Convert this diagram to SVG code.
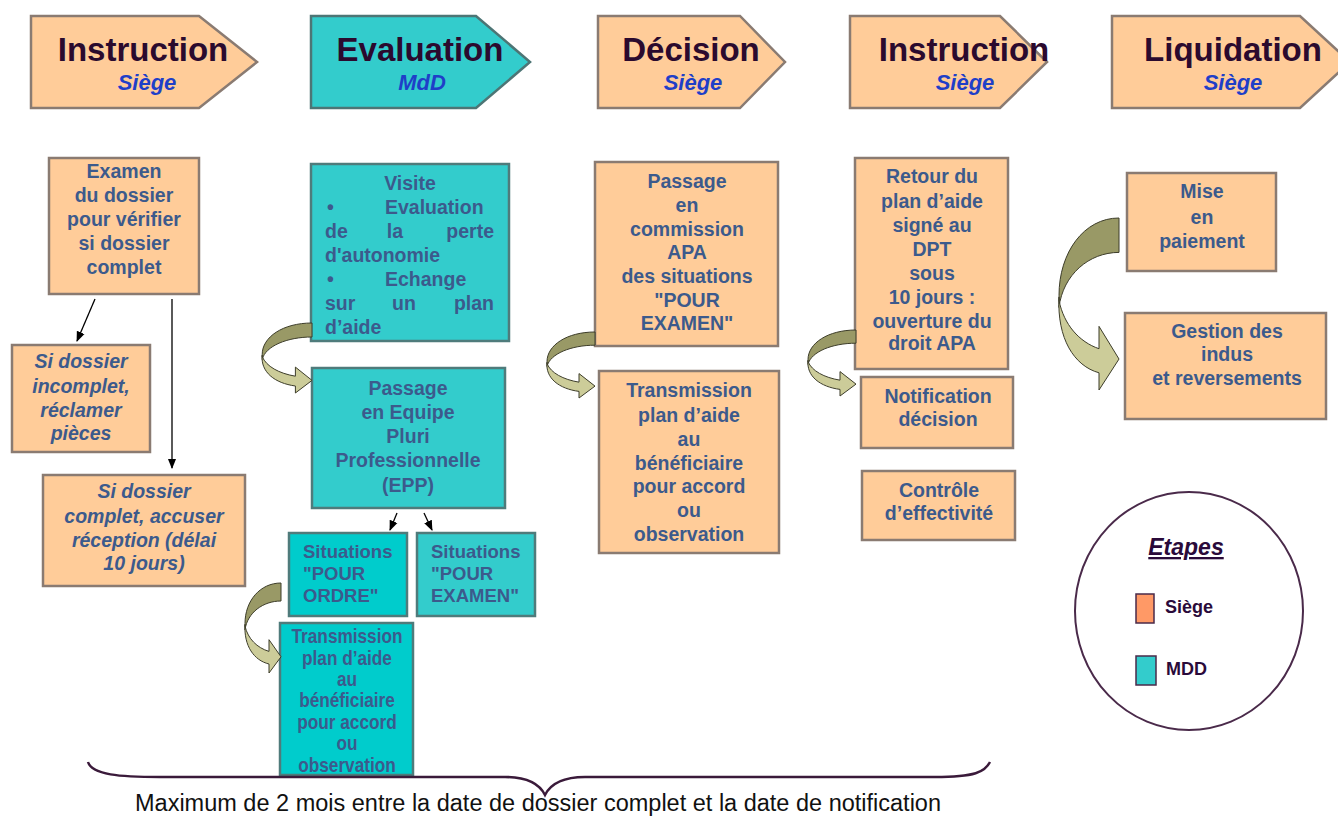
<svg xmlns="http://www.w3.org/2000/svg" xmlns:xlink="http://www.w3.org/1999/xlink" width="1338" height="816" viewBox="0 0 1338 816">
<style>
.hp{fill:#FFCC99;stroke:#8a7b72;stroke-width:2.5}
.ht{fill:#33CCCC;stroke:#4d7575;stroke-width:2.5}
.peach{fill:#FFCC99;stroke:#8a7b72;stroke-width:2.5}
.teal{fill:#33CCCC;stroke:#4f7b7b;stroke-width:2.5}
.teal2{fill:#00CCCC;stroke:#4f7b7b;stroke-width:2.5}
.h1{font-family:"Liberation Sans",Arial,sans-serif;font-weight:bold;font-size:33px;fill:#2b0a2e;text-anchor:middle}
.h2{font-family:"Liberation Sans",Arial,sans-serif;font-weight:bold;font-style:italic;font-size:22px;fill:#1f3fc8;text-anchor:middle}
.t{font-family:"Liberation Sans",Arial,sans-serif;font-weight:bold;font-size:19.5px;fill:#3c5a8c;text-anchor:middle}
.ti{font-family:"Liberation Sans",Arial,sans-serif;font-weight:bold;font-style:italic;font-size:19.5px;fill:#3c5a8c;text-anchor:middle}
.ts{font-family:"Liberation Sans",Arial,sans-serif;font-weight:bold;font-size:18.5px;fill:#3c5a8c}
.tn{font-family:"Liberation Sans",Arial,sans-serif;font-weight:bold;font-size:21px;fill:#3c5a8c;text-anchor:middle}
.tv{font-family:"Liberation Sans",Arial,sans-serif;font-weight:bold;font-size:19.5px;fill:#3c5a8c}
.lg{font-family:"Liberation Sans",Arial,sans-serif;font-weight:bold;font-size:18px;fill:#2a0a3a}
.lgt{font-family:"Liberation Sans",Arial,sans-serif;font-weight:bold;font-style:italic;font-size:23px;fill:#2a0a3a;text-anchor:middle;text-decoration:underline}
.cap{font-family:"Liberation Sans",Arial,sans-serif;font-size:23px;fill:#111;text-anchor:middle}
.ln{stroke:#000;stroke-width:1.3;fill:none}
.cdark{fill:#999966;stroke:#3d3d2a;stroke-width:1;vector-effect:non-scaling-stroke}
.clight{fill:#CCCC99;stroke:#3d3d2a;stroke-width:1;vector-effect:non-scaling-stroke}
</style>
<defs>
<marker id="ah" viewBox="0 0 10 10" refX="9" refY="5" markerWidth="8" markerHeight="8" orient="auto">
<path d="M0,1 L10,5 L0,9 Z" fill="#000"/>
</marker>
<clipPath id="clipVisite"><rect x="312" y="165" width="197" height="175"/></clipPath>
<clipPath id="clipTr"><rect x="281" y="624" width="131" height="150"/></clipPath>
<g id="carrow">
<path class="cdark" d="M0,0 C-35,0 -60,20 -60,45 L-60,52 C-56,33 -30,20 0,20 Z"/>
<path class="clight" d="M-60,46 C-62,70 -45,86 -20,90 L-20,100 L0,82 L-20,63 L-20,76 C-40,72 -55,62 -60,48 Z"/>
</g>
</defs>
<rect width="1338" height="816" fill="#fff"/>

<!-- headers -->
<g id="h-instruction1">
<path class="hp" d="M31,16 L199,16 L257,62 L199,108 L31,108 Z"/>
<text class="h1" x="143" y="61">Instruction</text>
<text class="h2" x="147" y="90">Siège</text>
</g>
<g id="h-evaluation">
<path class="ht" d="M311,16 L476,16 L530,62 L476,108 L311,108 Z"/>
<text class="h1" x="420" y="61">Evaluation</text>
<text class="h2" x="422" y="90">MdD</text>
</g>
<g id="h-decision">
<path class="hp" d="M598,16 L740,16 L785,62 L740,108 L598,108 Z"/>
<text class="h1" x="691" y="61">Décision</text>
<text class="h2" x="693" y="90">Siège</text>
</g>
<g id="h-instruction2">
<path class="hp" d="M850,16 L1000,16 L1047,62 L1000,108 L850,108 Z"/>
<text class="h1" x="964" y="61">Instruction</text>
<text class="h2" x="965" y="90">Siège</text>
</g>
<g id="h-liquidation">
<path class="hp" d="M1112,16 L1300,16 L1350,62 L1300,108 L1112,108 Z"/>
<text class="h1" x="1233" y="61">Liquidation</text>
<text class="h2" x="1233" y="90">Siège</text>
</g>

<!-- column 1 -->
<g id="n-examen">
<rect class="peach" x="49" y="158" width="150" height="136"/>
<text class="t" x="124" y="178">Examen</text>
<text class="t" x="124" y="202">du dossier</text>
<text class="t" x="124" y="226">pour vérifier</text>
<text class="t" x="124" y="250">si dossier</text>
<text class="t" x="124" y="274">complet</text>
</g>
<g id="n-incomplet">
<rect class="peach" x="12" y="345" width="138" height="107"/>
<text class="ti" x="81" y="368">Si dossier</text>
<text class="ti" x="81" y="393">incomplet,</text>
<text class="ti" x="81" y="417">réclamer</text>
<text class="ti" x="81" y="440">pièces</text>
</g>
<g id="n-complet">
<rect class="peach" x="43" y="475" width="202" height="111"/>
<text class="ti" x="144" y="498">Si dossier</text>
<text class="ti" x="144" y="523">complet, accuser</text>
<text class="ti" x="144" y="547">réception (délai</text>
<text class="ti" x="144" y="570">10 jours)</text>
</g>

<!-- column 2 -->
<g id="n-visite">
<rect class="teal" x="311" y="164" width="198" height="177"/>
<g clip-path="url(#clipVisite)">
<text class="tv" x="410" y="190" text-anchor="middle">Visite</text>
<text class="tv" x="327" y="214">•</text>
<text class="tv" x="385" y="214">Evaluation</text>
<text class="tv" x="325" y="238">de</text>
<text class="tv" x="395" y="238" text-anchor="middle">la</text>
<text class="tv" x="494" y="238" text-anchor="end">perte</text>
<text class="tv" x="325" y="262">d'autonomie</text>
<text class="tv" x="327" y="286">•</text>
<text class="tv" x="385" y="286">Echange</text>
<text class="tv" x="325" y="310">sur</text>
<text class="tv" x="404" y="310" text-anchor="middle">un</text>
<text class="tv" x="494" y="310" text-anchor="end">plan</text>
<text class="tv" x="325" y="334">d’aide</text>
</g>
</g>
<g id="n-epp">
<rect class="teal" x="312" y="368" width="193" height="140"/>
<text class="t" x="408" y="395">Passage</text>
<text class="t" x="408" y="419">en Equipe</text>
<text class="t" x="408" y="443">Pluri</text>
<text class="t" x="408" y="467">Professionnelle</text>
<text class="t" x="408" y="492">(EPP)</text>
</g>
<g id="n-pour-ordre">
<rect class="teal2" x="289" y="533" width="118" height="83"/>
<text class="ts" x="303" y="558">Situations</text>
<text class="ts" x="303" y="580">"POUR</text>
<text class="ts" x="303" y="602">ORDRE"</text>
</g>
<g id="n-pour-examen">
<rect class="teal" x="417" y="533" width="118" height="83"/>
<text class="ts" x="431" y="558">Situations</text>
<text class="ts" x="431" y="580">"POUR</text>
<text class="ts" x="431" y="602">EXAMEN"</text>
</g>
<g id="n-transmission1">
<rect class="teal2" x="280" y="623" width="133" height="152"/>
<g clip-path="url(#clipTr)">
<g transform="translate(347,0) scale(0.82,1)">
<text class="tn" x="0" y="643">Transmission</text>
<text class="tn" x="0" y="665">plan d’aide</text>
<text class="tn" x="0" y="686">au</text>
<text class="tn" x="0" y="707">bénéficiaire</text>
<text class="tn" x="0" y="729">pour accord</text>
<text class="tn" x="0" y="750">ou</text>
<text class="tn" x="0" y="772">observation</text>
</g>
</g>
</g>

<!-- column 3 -->
<g id="n-commission">
<rect class="peach" x="595" y="162" width="183" height="184"/>
<text class="t" x="687" y="188">Passage</text>
<text class="t" x="687" y="212">en</text>
<text class="t" x="687" y="236">commission</text>
<text class="t" x="687" y="259">APA</text>
<text class="t" x="687" y="283">des situations</text>
<text class="t" x="687" y="307">"POUR</text>
<text class="t" x="687" y="330">EXAMEN"</text>
</g>
<g id="n-transmission2">
<rect class="peach" x="599" y="371" width="180" height="182"/>
<text class="t" x="689" y="397">Transmission</text>
<text class="t" x="689" y="422">plan d’aide</text>
<text class="t" x="689" y="446">au</text>
<text class="t" x="689" y="470">bénéficiaire</text>
<text class="t" x="689" y="493">pour accord</text>
<text class="t" x="689" y="517">ou</text>
<text class="t" x="689" y="541">observation</text>
</g>

<!-- column 4 -->
<g id="n-retour">
<rect class="peach" x="855" y="158" width="153" height="211"/>
<text class="t" x="932" y="183">Retour du</text>
<text class="t" x="932" y="208">plan d’aide</text>
<text class="t" x="932" y="232">signé au</text>
<text class="t" x="932" y="256">DPT</text>
<text class="t" x="932" y="280">sous</text>
<text class="t" x="932" y="304">10 jours :</text>
<text class="t" x="932" y="328">ouverture du</text>
<text class="t" x="932" y="350">droit APA</text>
</g>
<g id="n-notification">
<rect class="peach" x="861" y="377" width="152" height="71"/>
<text class="t" x="938" y="403">Notification</text>
<text class="t" x="938" y="426">décision</text>
</g>
<g id="n-controle">
<rect class="peach" x="862" y="471" width="153" height="69"/>
<text class="t" x="939" y="497">Contrôle</text>
<text class="t" x="939" y="520">d’effectivité</text>
</g>

<!-- column 5 -->
<g id="n-paiement">
<rect class="peach" x="1127" y="173" width="149" height="98"/>
<text class="t" x="1202" y="198">Mise</text>
<text class="t" x="1202" y="224">en</text>
<text class="t" x="1202" y="248">paiement</text>
</g>
<g id="n-gestion">
<rect class="peach" x="1125" y="313" width="201" height="106"/>
<text class="t" x="1227" y="338">Gestion des</text>
<text class="t" x="1227" y="361">indus</text>
<text class="t" x="1227" y="385">et reversements</text>
</g>

<!-- legend -->
<g id="legend">
<ellipse cx="1189" cy="611" rx="114" ry="119" fill="#fff" stroke="#4a2a4a" stroke-width="2"/>
<text class="lgt" x="1186" y="555">Etapes</text>
<rect x="1136" y="594" width="18" height="29" fill="#FF9966" stroke="#4a2a4a" stroke-width="1.5"/>
<text class="lg" x="1165" y="613">Siège</text>
<rect x="1136" y="656" width="20" height="29" fill="#33CCCC" stroke="#4a2a4a" stroke-width="1.5"/>
<text class="lg" x="1166" y="675">MDD</text>
</g>

<!-- connectors -->
<g id="connectors">
<line class="ln" x1="95" y1="299" x2="77" y2="341" marker-end="url(#ah)"/>
<line class="ln" x1="172" y1="299" x2="172" y2="468" marker-end="url(#ah)"/>
<line class="ln" x1="397" y1="513" x2="390" y2="530" stroke-width="2" marker-end="url(#ah)"/>
<line class="ln" x1="424" y1="513" x2="432" y2="530" stroke-width="2" marker-end="url(#ah)"/>
<use href="#carrow" xlink:href="#carrow" transform="translate(312,323) scale(0.83,0.7)"/>
<use href="#carrow" xlink:href="#carrow" transform="translate(281,583) scale(0.6,0.9)"/>
<use href="#carrow" xlink:href="#carrow" transform="translate(595,332) scale(0.8,0.66)"/>
<use href="#carrow" xlink:href="#carrow" transform="translate(856,330) scale(0.8,0.66)"/>
<use href="#carrow" xlink:href="#carrow" transform="translate(1119,218) scale(1,1.72)"/>
</g>

<!-- brace and caption -->
<g id="brace">
<path d="M88,762 C92,775 120,777 160,777 L505,777 C530,777 540,785 545,795 C550,785 560,777 585,777 L935,777 C975,777 985,772 990,762" fill="none" stroke="#3a1a3a" stroke-width="2.5"/>
<text class="cap" x="538" y="811" textLength="806" lengthAdjust="spacingAndGlyphs">Maximum de 2 mois entre la date de dossier complet et la date de notification</text>
</g>
</svg>
